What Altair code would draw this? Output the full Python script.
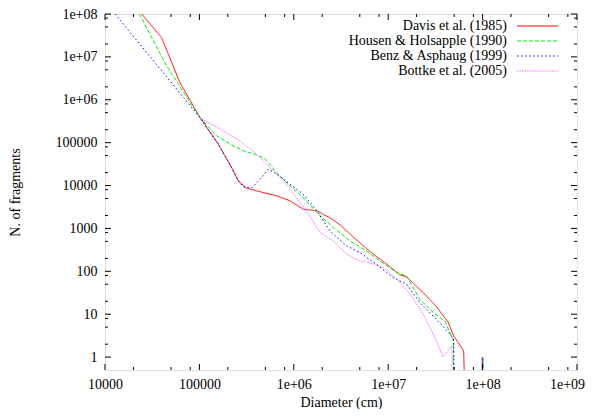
import altair as alt
import pandas as pd

series_names = ["Davis et al. (1985)", "Housen & Holsapple (1990)",
                "Benz & Asphaug (1999)", "Bottke et al. (2005)"]
colors = ["#ff0000", "#00ee00", "#0000ff", "#ff70ff"]
dashes = [[1, 0], [4, 2], [1.5, 2.5], [1.5, 1]]

davis_d = [24500, 39800, 61700, 101000, 158000, 220000, 258000, 316000, 404000,
           658000, 912000, 1.26e6, 1.74e6, 2.4e6, 3.1e6, 4.27e6, 6.4e6, 9.6e6,
           1.33e7, 1.57e7, 2.34e7, 3.24e7, 4.3e7, 4.9e7, 6.3e7, 6.9e7]
davis_n = [1.0e8, 2.8e7, 2.6e6, 3.9e5, 9.3e4, 2.6e4, 1.29e4, 8700, 7500,
           5750, 4400, 2800, 2600, 1780, 1200, 630, 290, 148,
           83, 74, 32, 15, 6.6, 3.2, 1.4, 0.001]

housen_d = [23100, 44700, 100000, 152000, 211000, 292000, 404000, 495000, 658000,
            912000, 1.26e6, 1.75e6, 2.63e6, 3.94e6, 5.9e6, 8.2e6, 1.23e7, 1.57e7,
            2.17e7, 3.0e7, 3.98e7, 4.9e7, 5.0e7, 1.0e8, 1.01e8, 1.02e8]
housen_n = [1.0e8, 6.3e6, 4.0e5, 1.45e5, 9.3e4, 6.5e4, 5.2e4, 4.2e4, 2.0e4,
            9800, 5200, 2350, 1050, 510, 300, 174, 93, 78,
            22, 11, 6.9, 2.4, 0.001, 0.001, 1, 0.001]

benz_d = [12800, 101000, 158000, 220000, 258000, 292000, 355000, 439000, 537000,
          658000, 912000, 1.26e6, 1.75e6, 2.42e6, 3.63e6, 5.0e6, 7.5e6, 1.13e7,
          1.57e7, 2.17e7, 3.39e7, 4.68e7, 4.95e7, 5.0e7, 9.9e7, 1.0e8, 1.01e8]
benz_n = [1.0e8, 3.9e5, 9.3e4, 2.6e4, 1.3e4, 9300, 8700, 1.4e4, 2.4e4,
          1.86e4, 1.07e4, 6300, 2600, 870, 390, 275, 146, 71,
          50, 18.6, 6.9, 3.1, 2.5, 0.001, 0.001, 1, 0.001]

bottke_d = [100000, 178000, 269000, 404000, 560000, 776000, 1.07e6, 1.36e6, 1.9e6,
            2.63e6, 3.63e6, 5.0e6, 6.4e6, 8.9e6, 1.23e7, 1.7e7, 2.34e7, 3.13e7,
            3.8e7, 4.73e7, 4.82e7, 9.7e7, 9.8e7, 9.9e7]
bottke_n = [3.8e5, 1.9e5, 1.1e5, 5.4e4, 2.6e4, 1.29e4, 5200, 2600, 800,
            510, 250, 174, 158, 123, 66, 30, 10, 2.9,
            1.0, 1.8, 0.001, 0.001, 1, 0.001]

x_major = [1e4, 1e5, 1e6, 1e7, 1e8, 1e9]
x_labels = ["10000", "100000", "1e+06", "1e+07", "1e+08", "1e+09"]
y_major = [1, 10, 100, 1000, 10000, 100000, 1e6, 1e7, 1e8]
y_labels = ["1", "10", "100", "1000", "10000", "100000", "1e+06", "1e+07", "1e+08"]
minor_mult = [2, 5, 8]

W, H = 472, 356
FONT = "Liberation Serif"
FS = 14

rows = []
for name, ds, ns in [(series_names[0], davis_d, davis_n),
                     (series_names[1], housen_d, housen_n),
                     (series_names[2], benz_d, benz_n),
                     (series_names[3], bottke_d, bottke_n)]:
    for i, (d, n) in enumerate(zip(ds, ns)):
        rows.append({"series": name, "i": i, "d": d, "n": n})
df = pd.DataFrame(rows)

x_minor = [m * v for v in x_major[:-1] for m in minor_mult]
y_minor = [m * v for v in y_major[:-1] for m in minor_mult]


def label_expr(values, labels):
    expr = "datum.label"
    for v, l in zip(values, labels):
        expr = f"datum.value == {v!r} ? '{l}' : " + expr
    return expr


xscale = alt.Scale(type="log", domain=[1e4, 1e9], nice=False)
yscale = alt.Scale(type="log", domain=[0.5, 1e8], nice=False)

xaxis = alt.Axis(values=x_major, labelExpr=label_expr(x_major, x_labels),
                 ticks=False, domain=False, grid=False, labelFlush=False,
                 labelOverlap=False, labelPadding=7, labelFont=FONT,
                 labelFontSize=FS, labelColor="black", title="Diameter (cm)",
                 labelOffset=alt.condition("datum.value == 1e9", alt.value(-10), alt.value(0)),
                 titleFont=FONT, titleFontSize=FS, titleFontWeight="normal",
                 titleColor="black", titleY=25, titleBaseline="top")
yaxis = alt.Axis(values=y_major, labelExpr=label_expr(y_major, y_labels),
                 ticks=False, domain=False, grid=False, labelFlush=False,
                 labelOverlap=False, labelPadding=8, labelFont=FONT,
                 labelFontSize=FS, labelColor="black", title="N. of fragments",
                 titleFont=FONT, titleFontSize=FS, titleFontWeight="normal",
                 titleColor="black", titleX=-86, titleY=H / 2,
                 titleBaseline="alphabetic", titleAlign="center")

lines = alt.Chart(df).mark_line(clip=True, strokeWidth=1).encode(
    x=alt.X("d:Q", scale=xscale, axis=xaxis),
    y=alt.Y("n:Q", scale=yscale, axis=yaxis),
    color=alt.Color("series:N", scale=alt.Scale(domain=series_names, range=colors), legend=None),
    strokeDash=alt.StrokeDash("series:N", scale=alt.Scale(domain=series_names, range=dashes), legend=None),
    order="i:Q",
    detail="series:N",
)

xmaj = pd.DataFrame({"v": x_major})
xmin = pd.DataFrame({"v": x_minor})
ymaj = pd.DataFrame({"v": y_major})
ymin = pd.DataFrame({"v": y_minor})


def xticks(data, length):
    bottom = alt.Chart(data).mark_rule(color="black", strokeWidth=1).encode(
        x=alt.X("v:Q", scale=xscale), y=alt.value(H), y2=alt.value(H - length))
    top = alt.Chart(data).mark_rule(color="black", strokeWidth=1).encode(
        x=alt.X("v:Q", scale=xscale), y=alt.value(0), y2=alt.value(length))
    return [bottom, top]


def yticks(data, length):
    left = alt.Chart(data).mark_rule(color="black", strokeWidth=1).encode(
        y=alt.Y("v:Q", scale=yscale), x=alt.value(0), x2=alt.value(length))
    right = alt.Chart(data).mark_rule(color="black", strokeWidth=1).encode(
        y=alt.Y("v:Q", scale=yscale), x=alt.value(W), x2=alt.value(W - length))
    return [left, right]


tick_layers = xticks(xmaj, 6) + xticks(xmin, 3) + yticks(ymaj, 6) + yticks(ymin, 3)

legend_layers = []
leg = pd.DataFrame({"series": series_names})
for k, name in enumerate(series_names):
    yk = 12 + 15 * k
    sub = leg[leg["series"] == name]
    legend_layers.append(
        alt.Chart(sub).mark_text(align="right", baseline="middle", font=FONT,
                                 fontSize=FS, color="black").encode(
            text="series:N", x=alt.value(402), y=alt.value(yk)))
    legend_layers.append(
        alt.Chart(sub).mark_rule(strokeWidth=1, color=colors[k],
                                 strokeDash=dashes[k]).encode(
            x=alt.value(412), x2=alt.value(453), y=alt.value(yk)))

chart = alt.layer(lines, *tick_layers, *legend_layers).properties(
    width=W, height=H,
    autosize=alt.AutoSizeParams(type="none"),
    padding={"left": 97, "top": 6, "right": 11, "bottom": 39},
).configure_view(stroke="black", strokeWidth=1).configure(background="white")

chart.save("out.html", embed_options={"renderer": "svg", "actions": False})
